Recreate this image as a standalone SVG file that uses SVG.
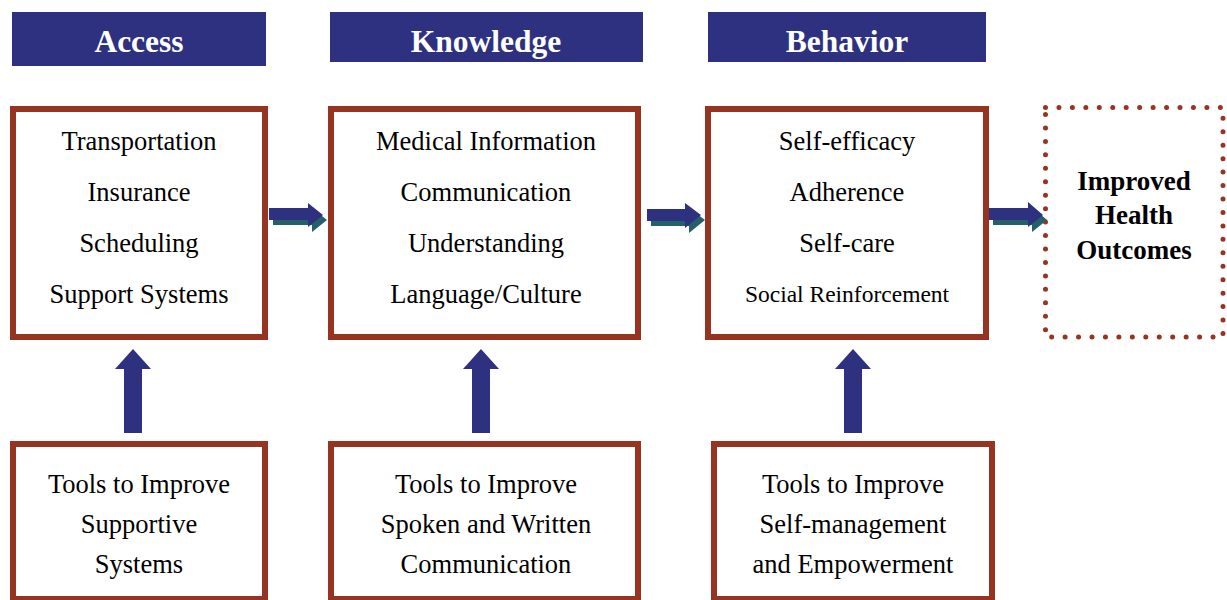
<svg xmlns="http://www.w3.org/2000/svg" width="1227" height="600" viewBox="0 0 1227 600">
<defs>
<style>
.hdr{fill:#2D3180}
.hdrt{font-family:"Liberation Serif","Times New Roman",serif;font-weight:bold;font-size:31.5px;fill:#fff;text-anchor:middle}
.box{fill:#fff;stroke:#973421;stroke-width:6}
.dot{fill:none;stroke:#973421;stroke-width:5;stroke-linecap:round;stroke-dasharray:0 13.45}
.t{font-family:"Liberation Serif","Times New Roman",serif;font-size:26.5px;fill:#000;text-anchor:middle}
.ts{font-size:23.5px}
.tb{font-family:"Liberation Serif","Times New Roman",serif;font-size:27px;font-weight:bold;fill:#000;text-anchor:middle}
.arr{fill:#2D3180}
.sh{fill:#245F6B}
</style>
</defs>
<g id="header-access"><rect class="hdr" x="12" y="12" width="254" height="54"/><text class="hdrt" x="139" y="52">Access</text></g>
<g id="header-knowledge"><rect class="hdr" x="330" y="12" width="313" height="50"/><text class="hdrt" x="486" y="52">Knowledge</text></g>
<g id="header-behavior"><rect class="hdr" x="708" y="12" width="278" height="50"/><text class="hdrt" x="847" y="52">Behavior</text></g>

<g id="access"><rect class="box" x="13" y="109" width="252" height="228"/>
<text class="t" x="139" y="150">Transportation</text>
<text class="t" x="139" y="201">Insurance</text>
<text class="t" x="139" y="252">Scheduling</text>
<text class="t" x="139" y="303">Support Systems</text></g>

<g id="knowledge"><rect class="box" x="331" y="109" width="307" height="228"/>
<text class="t" x="486" y="150">Medical Information</text>
<text class="t" x="486" y="201">Communication</text>
<text class="t" x="486" y="252">Understanding</text>
<text class="t" x="486" y="303">Language/Culture</text></g>

<g id="behavior"><rect class="box" x="708" y="109" width="278" height="228"/>
<text class="t" x="847" y="150">Self-efficacy</text>
<text class="t" x="847" y="201">Adherence</text>
<text class="t" x="847" y="252">Self-care</text>
<text class="t ts" x="847" y="302">Social Reinforcement</text></g>

<g id="outcomes"><rect class="dot" x="1045.5" y="107.5" width="177.5" height="229.5"/>
<text class="tb" x="1134" y="190">Improved</text>
<text class="tb" x="1134" y="224">Health</text>
<text class="tb" x="1134" y="259">Outcomes</text></g>

<g id="tools-access"><rect class="box" x="13" y="444" width="252" height="155"/>
<text class="t" x="139" y="493">Tools to Improve</text>
<text class="t" x="139" y="533">Supportive</text>
<text class="t" x="139" y="573">Systems</text></g>

<g id="tools-knowledge"><rect class="box" x="331" y="444" width="307" height="155"/>
<text class="t" x="486" y="493">Tools to Improve</text>
<text class="t" x="486" y="533">Spoken and Written</text>
<text class="t" x="486" y="573">Communication</text></g>

<g id="tools-behavior"><rect class="box" x="714" y="444" width="278" height="155"/>
<text class="t" x="853" y="493">Tools to Improve</text>
<text class="t" x="853" y="533">Self-management</text>
<text class="t" x="853" y="573">and Empowerment</text></g>

<g id="connectors">
<polygon class="sh" points="273,213 312,213 312,208 327,220 312,232 312,225 273,225"/>
<polygon class="arr" points="269,208 308,208 308,203 323,215 308,227 308,220 269,220"/>
<polygon class="sh" points="651,214 689,214 689,208 705,220 689,233 689,226 651,226"/>
<polygon class="arr" points="647,209 685,209 685,203 701,215 685,228 685,221 647,221"/>
<polygon class="sh" points="993,213 1032,213 1032,207 1047,220 1032,232 1032,225 993,225"/>
<polygon class="arr" points="989,208 1028,208 1028,202 1043,215 1028,227 1028,220 989,220"/>
<polygon class="arr" points="124,433 124,369 115,369 133,349 151,369 142,369 142,433"/>
<polygon class="arr" points="472,433 472,369 463,369 481,349 499,369 490,369 490,433"/>
<polygon class="arr" points="844,433 844,369 835,369 853,349 871,369 862,369 862,433"/>
</g>
</svg>
